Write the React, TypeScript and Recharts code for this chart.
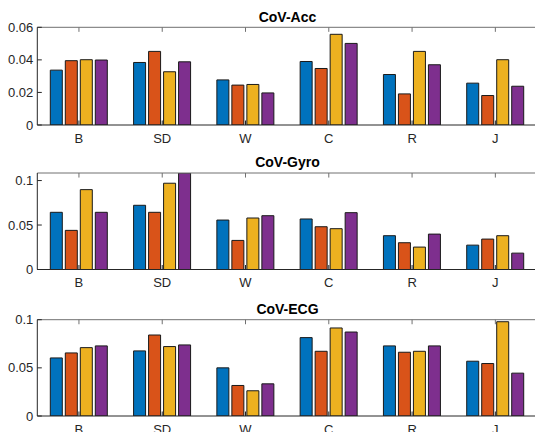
import React from "react";
import { Bar, BarChart, ReferenceLine, XAxis, YAxis } from "recharts";

const categories = ["B", "SD", "W", "C", "R", "J"];

// CoV-Acc
const accBlue = [0.0337, 0.0384, 0.0277, 0.039, 0.031, 0.0257];
const accOrange = [0.0395, 0.0452, 0.0245, 0.0347, 0.0191, 0.0181];
const accYellow = [0.0401, 0.0327, 0.0249, 0.0557, 0.0452, 0.0401];
const accPurple = [0.0399, 0.0388, 0.0197, 0.0501, 0.037, 0.0238];
const accTicks = [0, 0.02, 0.04, 0.06];

// CoV-Gyro
const gyroBlue = [0.0643, 0.0722, 0.0556, 0.0568, 0.038, 0.0274];
const gyroOrange = [0.044, 0.0643, 0.0327, 0.0481, 0.0301, 0.0342];
const gyroYellow = [0.0898, 0.097, 0.0579, 0.0459, 0.0252, 0.038];
const gyroPurple = [0.0643, 0.1085, 0.0605, 0.0639, 0.0398, 0.0184];
const gyroTicks = [0, 0.05, 0.1];

// CoV-ECG
const ecgBlue = [0.0603, 0.0676, 0.05, 0.0814, 0.0728, 0.0569];
const ecgOrange = [0.0655, 0.0841, 0.0317, 0.0672, 0.0662, 0.0545];
const ecgYellow = [0.071, 0.0721, 0.0262, 0.0914, 0.0672, 0.0979];
const ecgPurple = [0.0728, 0.0738, 0.0334, 0.0872, 0.0728, 0.0445];
const ecgTicks = [0, 0.05, 0.1];

const COLORS = ["#0072BD", "#D95319", "#EDB120", "#7E2F8E"];
const FONT = "'Liberation Sans', Arial, Helvetica, sans-serif";
const TEXT = "#262626";

function toRows(series: number[][]) {
  return categories.map((cat, i) => ({
    cat,
    s0: series[0][i],
    s1: series[1][i],
    s2: series[2][i],
    s3: series[3][i],
  }));
}

const fmt = (v: number) => (v === 0 ? "0" : String(v));
const blank = () => "";

interface PanelProps {
  top: number;
  plotTop: number;
  plotBottom: number;
  rows: ReturnType<typeof toRows>;
  yMax: number;
  ticks: number[];
}

function Panel({ top, plotTop, plotBottom, rows, yMax, ticks }: PanelProps) {
  const height = plotBottom + 20 - top;
  const tickStyle = { fill: TEXT, fontSize: 13, fontFamily: FONT };
  // inward tick length of ~4.5px, in data units
  const tickLen = (yMax * 4.5) / (plotBottom - plotTop);
  return (
    <div style={{ position: "absolute", left: 0, top }}>
      <BarChart
        width={545}
        height={height}
        data={rows}
        margin={{ top: plotTop - top - 1, right: 8, bottom: 0, left: 0 }}
        barCategoryGap={13}
        barGap={3}
      >
        <XAxis
          dataKey="cat"
          interval={0}
          height={20}
          tickSize={-4.5}
          tickMargin={13}
          tick={tickStyle}
          stroke="#262626"
        />
        <YAxis
          type="number"
          domain={[0, yMax]}
          ticks={ticks}
          allowDataOverflow
          width={37.3}
          tickSize={-4.5}
          tickMargin={8.5}
          tickFormatter={fmt}
          tick={tickStyle}
          stroke="#262626"
        />
        <YAxis
          yAxisId="r"
          orientation="right"
          type="number"
          domain={[0, yMax]}
          ticks={ticks}
          allowDataOverflow
          width={0}
          tickSize={-4.5}
          tickFormatter={blank}
          stroke="#707070"
        />
        <ReferenceLine y={yMax} stroke="#707070" ifOverflow="visible" />
        {categories.map((c) => (
          <ReferenceLine
            key={c}
            segment={[
              { x: c, y: yMax },
              { x: c, y: yMax - tickLen },
            ]}
            stroke="#707070"
            ifOverflow="visible"
          />
        ))}
        {COLORS.map((c, i) => (
          <Bar
            key={i}
            dataKey={`s${i}`}
            fill={c}
            stroke="#1a1a1a"
            strokeWidth={1}
            isAnimationActive={false}
          />
        ))}
      </BarChart>
    </div>
  );
}

export default function App() {
  return (
    <div
      style={{
        position: "fixed",
        left: 0,
        top: 0,
        width: 535,
        height: 432,
        overflow: "hidden",
        background: "#fff",
      }}
    >
      <Panel
        top={0}
        plotTop={28.3}
        plotBottom={125}
        rows={toRows([accBlue, accOrange, accYellow, accPurple])}
        yMax={0.06}
        ticks={accTicks}
      />
      <Panel
        top={145}
        plotTop={174}
        plotBottom={269.5}
        rows={toRows([gyroBlue, gyroOrange, gyroYellow, gyroPurple])}
        yMax={0.1085}
        ticks={gyroTicks}
      />
      <Panel
        top={290}
        plotTop={320.7}
        plotBottom={416}
        rows={toRows([ecgBlue, ecgOrange, ecgYellow, ecgPurple])}
        yMax={0.1}
        ticks={ecgTicks}
      />
      <svg
        width={535}
        height={432}
        style={{ position: "absolute", left: 0, top: 0, pointerEvents: "none" }}
      >
        <g fontFamily={FONT} fontSize={14} fontWeight="bold" fill="#000" textAnchor="middle">
          <text x={287.5} y={21.6}>CoV-Acc</text>
          <text x={287.5} y={167.3}>CoV-Gyro</text>
          <text x={287.5} y={314}>CoV-ECG</text>
        </g>
      </svg>
    </div>
  );
}
